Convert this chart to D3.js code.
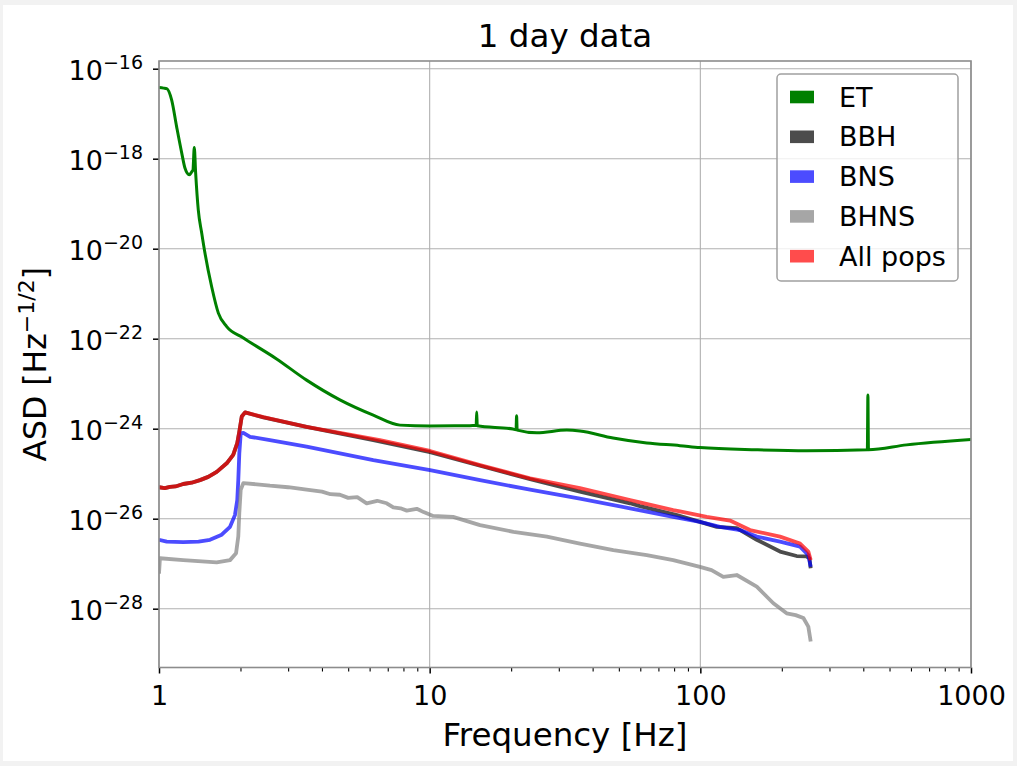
<!DOCTYPE html>
<html><head><meta charset="utf-8">
<script src="https://cdn.jsdelivr.net/npm/d3@7"></script>
<style>
html,body{margin:0;padding:0;background:#f2f2f2;}
svg{display:block;font-family:'DejaVu Sans',sans-serif;}
</style></head><body>
<svg id="c" width="1017" height="766"></svg>
<script>
// ---------------- DATA ----------------
const title = "1 day data";
const xTickValues = [1, 10, 100, 1000];
const xMinorTicks = [2,3,4,5,6,7,8,9,20,30,40,50,60,70,80,90,200,300,400,500,600,700,800,900];
const yTickExponents = [-16, -18, -20, -22, -24, -26, -28];

const seriesNames = ["ET", "BBH", "BNS", "BHNS", "All pops"];
const seriesColors = ["#008000", "#000000", "#0000ff", "#808080", "#ff0000"];

const etFreq = [1.0, 1.04, 1.068, 1.114, 1.162, 1.213, 1.247, 1.294, 1.321, 1.335, 1.35, 1.366, 1.397, 1.438, 1.479, 1.566, 1.657, 1.779, 2.044, 2.72, 3.51, 4.66, 6.19, 7.77, 10.03, 14.45, 14.85, 14.92, 14.99, 20.3, 20.85, 20.95, 21.05, 24.9, 32.1, 35.9, 47.6, 63.4, 84.1, 99.7, 161.5, 247, 414, 416, 418, 578, 1000];
const etASD  = [3.8e-17, 3.7e-17, 3.6e-17, 2.0e-17, 5.1e-18, 1.35e-18, 6.2e-19, 4.4e-19, 5.1e-19, 5.6e-19, 1.78e-18, 4.8e-19, 7.2e-20, 2.24e-20, 7.9e-21, 1.41e-21, 3.7e-22, 1.86e-22, 1.05e-22, 3.55e-23, 1.2e-23, 4.37e-24, 2.0e-24, 1.2e-24, 1.15e-24, 1.17e-24, 1.17e-24, 2.34e-24, 1.16e-24, 9.8e-25, 9.5e-25, 1.95e-24, 9.3e-25, 8.1e-25, 9.3e-25, 8.9e-25, 6.2e-25, 4.8e-25, 4.2e-25, 3.8e-25, 3.4e-25, 3.24e-25, 3.4e-25, 5.6e-24, 3.4e-25, 4.37e-25, 5.75e-25];

const bbhFreq = [1.0, 1.05, 1.098, 1.15, 1.229, 1.32, 1.417, 1.52, 1.634, 1.779, 1.88, 1.946, 1.98, 2.022, 2.08, 2.43, 3.51, 6.19, 10.03, 15.35, 23.5, 35.9, 55.0, 59.8, 82, 99.7, 115, 136.3, 161.6, 197, 227, 247, 253, 255.7];
const bbhASD  = [5.0e-26, 4.8e-26, 5.1e-26, 5.2e-26, 5.9e-26, 6.3e-26, 7.2e-26, 8.5e-26, 1.1e-25, 1.7e-25, 2.63e-25, 4.8e-25, 8.5e-25, 1.86e-24, 2.3e-24, 1.78e-24, 1.1e-24, 5.6e-25, 3.0e-25, 1.5e-25, 7.6e-26, 4.0e-26, 2.2e-26, 1.9e-26, 1.2e-26, 8.5e-27, 6.6e-27, 6.2e-27, 3.4e-27, 1.86e-27, 1.48e-27, 1.45e-27, 1.3e-27, 7.9e-28];

const bnsFreq = [1.0, 1.068, 1.229, 1.4, 1.543, 1.705, 1.83, 1.908, 1.946, 1.963, 1.98, 2.004, 2.05, 2.17, 2.57, 3.51, 6.19, 10.03, 15.35, 23.5, 35.9, 55, 79.4, 99.7, 118.2, 140.2, 161.6, 197, 233.6, 250.6, 255.7];
const bnsASD  = [3.4e-27, 3.1e-27, 3.0e-27, 3.1e-27, 3.4e-27, 4.4e-27, 6.6e-27, 1.2e-26, 2.6e-26, 7.2e-26, 2.8e-25, 7.9e-25, 8.1e-25, 6.6e-25, 5.6e-25, 4.0e-25, 2.0e-25, 1.2e-25, 7.2e-26, 4.4e-26, 2.8e-26, 1.7e-26, 1.1e-26, 8.5e-27, 6.6e-27, 5.6e-27, 4.0e-27, 3.1e-27, 2.4e-27, 1.55e-27, 8.5e-28];

const bhnsFreq = [1.0, 1.008, 1.229, 1.634, 1.83, 1.926, 1.963, 1.98, 2.004, 2.05, 2.3, 2.57, 3.0, 3.51, 4.0, 4.3, 4.66, 5.0, 5.4, 5.85, 6.4, 6.94, 7.34, 7.8, 8.23, 8.96, 9.5, 10.3, 12.2, 15.35, 20.4, 27.1, 35.9, 47.7, 63.4, 79.4, 99.7, 110, 121.6, 136.3, 161.6, 186.1, 208.4, 225, 240.3, 250.6, 255.7];
const bhnsASD  = [6e-28, 1.32e-27, 1.2e-27, 1.07e-27, 1.2e-27, 1.7e-27, 4.0e-27, 1.32e-26, 4.4e-26, 6.2e-26, 5.8e-26, 5.4e-26, 5.0e-26, 4.4e-26, 4.0e-26, 3.5e-26, 3.4e-26, 2.9e-26, 3.0e-26, 2.2e-26, 2.5e-26, 2.2e-26, 1.78e-26, 1.7e-26, 1.51e-26, 1.66e-26, 1.4e-26, 1.15e-26, 1.1e-26, 7.2e-27, 5.1e-27, 4.0e-27, 2.8e-27, 2.0e-27, 1.55e-27, 1.2e-27, 8.5e-28, 7.2e-28, 5.1e-28, 5.6e-28, 3.1e-28, 1.32e-28, 7.9e-29, 7.2e-29, 6.2e-29, 4.0e-29, 1.86e-29];

const allFreq = [1.0, 1.05, 1.098, 1.15, 1.229, 1.32, 1.417, 1.52, 1.634, 1.779, 1.88, 1.946, 1.98, 2.022, 2.08, 2.43, 3.51, 6.55, 10.03, 15.35, 23.5, 35.9, 55.0, 59.8, 79.4, 84.1, 105.6, 128.7, 152.6, 197, 233.6, 250.6, 255.7];
const allASD  = [5.0e-26, 4.8e-26, 5.1e-26, 5.2e-26, 5.9e-26, 6.3e-26, 7.2e-26, 8.5e-26, 1.1e-25, 1.7e-25, 2.63e-25, 4.8e-25, 8.5e-25, 1.86e-24, 2.3e-24, 1.8e-24, 1.1e-24, 5.6e-25, 3.2e-25, 1.55e-25, 7.9e-26, 4.8e-26, 2.6e-26, 2.3e-26, 1.55e-26, 1.45e-26, 1.1e-26, 9.1e-27, 5.6e-27, 4.0e-27, 2.8e-27, 1.86e-27, 1.2e-27];

// ---------------- CHART ----------------
const svg = d3.select('#c');
svg.append('rect').attr('x',3).attr('y',5).attr('width',1010).attr('height',756).attr('fill','#fff');

const L = 159, R = 971, T = 61, B = 667.5;
const x = d3.scaleLog().domain([1, 1000]).range([L, R]);
const y = d3.scaleLog().domain([Math.pow(10, -29.307), Math.pow(10, -15.829)]).range([B, T]);
const yTickValues = yTickExponents.map(e => Math.pow(10, e));

// grid
const grid = svg.append('g').attr('stroke', '#b0b0b0').attr('stroke-width', 1.1);
grid.selectAll('line.gx').data(xTickValues).join('line')
  .attr('x1', d => x(d)).attr('x2', d => x(d)).attr('y1', T).attr('y2', B);
grid.selectAll('line.gy').data(yTickValues).join('line')
  .attr('y1', d => y(d)).attr('y2', d => y(d)).attr('x1', L).attr('x2', R);

// clip
svg.append('clipPath').attr('id', 'clip').append('rect')
  .attr('x', L).attr('y', T).attr('width', R - L).attr('height', B - T);

const series = [
  {f: etFreq, v: etASD, w: 3.0, op: 1.0, curve: d3.curveMonotoneX},
  {f: bbhFreq, v: bbhASD, w: 3.8, op: 0.7, curve: d3.curveLinear},
  {f: bnsFreq, v: bnsASD, w: 3.8, op: 0.7, curve: d3.curveLinear},
  {f: bhnsFreq, v: bhnsASD, w: 3.8, op: 0.7, curve: d3.curveLinear},
  {f: allFreq, v: allASD, w: 3.8, op: 0.7, curve: d3.curveLinear}
];
const lines = svg.append('g').attr('clip-path', 'url(#clip)');
series.forEach((s, i) => {
  const pts = s.f.map((f, k) => [f, s.v[k]]);
  const gen = d3.line().x(d => x(d[0])).y(d => y(d[1])).curve(s.curve);
  lines.append('path').attr('d', gen(pts)).attr('fill', 'none')
    .attr('stroke', seriesColors[i]).attr('stroke-opacity', s.op)
    .attr('stroke-width', s.w).attr('stroke-linejoin', 'round').attr('stroke-linecap', 'butt');
});

// axes
const xAxis = svg.append('g').attr('transform', `translate(0,${B})`)
  .call(d3.axisBottom(x).tickValues(xTickValues).tickFormat(d3.format('d')).tickSize(6).tickPadding(12));
const xMinor = svg.append('g').attr('transform', `translate(0,${B})`)
  .call(d3.axisBottom(x).tickValues(xMinorTicks).tickFormat('').tickSize(4));
const yAxis = svg.append('g').attr('transform', `translate(${L},0)`)
  .call(d3.axisLeft(y).tickValues(yTickValues).tickFormat(() => '').tickSize(6).tickPadding(10));
[xAxis, xMinor, yAxis].forEach(g => {
  g.select('.domain').remove();
  g.selectAll('line').attr('stroke', '#000');
});
xAxis.selectAll('line').attr('stroke-width', 1.5);
xMinor.selectAll('line').attr('stroke-width', 1.1);
yAxis.selectAll('line').attr('stroke-width', 1.5);
xAxis.selectAll('text').attr('font-size', 27).attr('fill', '#000').attr('font-family', "'DejaVu Sans',sans-serif");
yAxis.selectAll('text').each(function(d, i) {
  const t = d3.select(this);
  t.attr('dy', '11px').attr('fill', '#000').attr('font-family', "'DejaVu Sans',sans-serif").attr('font-size', 27);
  t.append('tspan').text('10');
  t.append('tspan').attr('font-size', 19).attr('dy', -11).text('\u2212' + Math.abs(yTickExponents[i]));
});

// frame
svg.append('rect').attr('x', L).attr('y', T).attr('width', R - L).attr('height', B - T)
  .attr('fill', 'none').attr('stroke', '#8c8c8c').attr('stroke-width', 1.6);

// title & labels
svg.append('text').attr('x', (L + R) / 2).attr('y', 47).attr('text-anchor', 'middle')
  .attr('font-size', 32.5).text(title);
svg.append('text').attr('x', (L + R) / 2).attr('y', 746).attr('text-anchor', 'middle')
  .attr('font-size', 32.5).text('Frequency [Hz]');
const yl = svg.append('text').attr('transform', `translate(46,${(T + B) / 2}) rotate(-90)`)
  .attr('text-anchor', 'middle').attr('font-size', 31.5);
yl.append('tspan').text('ASD [Hz');
yl.append('tspan').attr('font-size', 22).attr('dy', -12).text('\u22121/2');
yl.append('tspan').attr('dy', 12).text(']');

// legend
const lg = svg.append('g');
lg.append('rect').attr('x', 777).attr('y', 74).attr('width', 181).attr('height', 207)
  .attr('rx', 4).attr('fill', '#fff').attr('fill-opacity', 0.8)
  .attr('stroke', '#a0a0a0').attr('stroke-width', 1.5);
seriesNames.forEach((n, i) => {
  const cy = 97 + i * 39.8;
  lg.append('rect').attr('x', 790).attr('y', cy - 6.3).attr('width', 24).attr('height', 12.6)
    .attr('fill', seriesColors[i]).attr('fill-opacity', i === 0 ? 1 : 0.7);
  lg.append('text').attr('x', 839).attr('y', cy + 9.5).attr('font-size', 27).text(n);
});
</script>
</body></html>
